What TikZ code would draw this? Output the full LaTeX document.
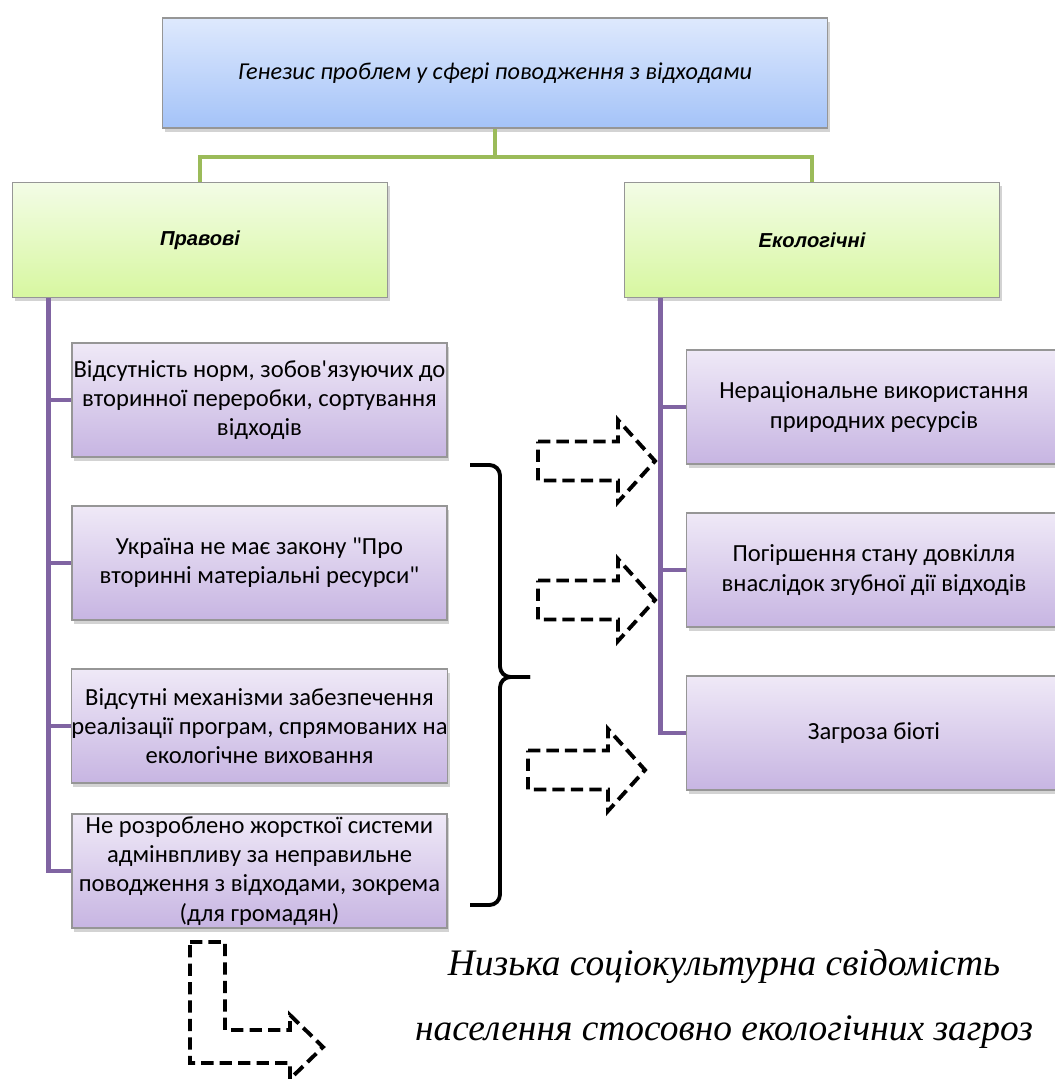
\documentclass[tikz,border=0pt]{standalone}
\usepackage{fontspec}
\setmainfont{Carlito}[Ligatures=TeXOff]
\newfontfamily\headfont{Liberation Sans}
\newfontfamily\notefont{Liberation Serif}
\usetikzlibrary{shadows}
\definecolor{genesistop}{RGB}{222,233,253}
\definecolor{genesisbottom}{RGB}{164,195,248}
\definecolor{branchtop}{RGB}{243,252,230}
\definecolor{branchbottom}{RGB}{215,247,160}
\definecolor{causetop}{RGB}{239,233,247}
\definecolor{causebottom}{RGB}{199,181,226}
\definecolor{boxborder}{RGB}{150,150,150}
\definecolor{greenline}{RGB}{155,187,89}
\definecolor{purpleline}{RGB}{128,100,162}

\tikzset{
    basebox/.style={draw=boxborder, line width=0.8pt, inner sep=0pt, align=center,
        drop shadow={opacity=0.35, shadow xshift=1.2pt, shadow yshift=-2pt}},
    genbox/.style={basebox, top color=genesistop, bottom color=genesisbottom,
        minimum width=13.3cm, minimum height=2.2cm,
        font=\fontsize{13.8}{17}\selectfont\itshape},
    branchbox/.style={basebox, top color=branchtop, bottom color=branchbottom,
        minimum width=7.5cm, minimum height=2.3cm,
        font=\headfont\fontsize{11.5}{14}\selectfont\bfseries\itshape},
    causebox/.style={basebox, top color=causetop, bottom color=causebottom,
        minimum width=7.5cm, minimum height=2.28cm,
        font=\fontsize{14}{16.6}\selectfont},
    treeline/.style={line width=2.8pt, color=greenline},
    listline/.style={line width=2.8pt, color=purpleline},
    hollowarrow/.style={line width=2.2pt, dash pattern=on 7pt off 3.5pt, line join=miter},
    bracket/.style={line width=2.2pt, rounded corners=6pt}
}

\begin{document}
\begin{tikzpicture}[x=0.02cm, y=-0.02cm]
    \useasboundingbox (0,0) rectangle (1054,1081);

    \node[genbox] (gen) at (495,73) {Генезис проблем у сфері поводження з відходами};
    \node[branchbox] (prav) at (200,240) {Правові};
    \node[branchbox] (ekol) at (812,240) {Екологічні};

    \coordinate (split) at (495,157);
    \draw[treeline] (gen.south) -- (split) -| (prav.north);
    \draw[treeline] (split) -| (ekol.north);

    \node[causebox] (p1) at (259.5,400) {Відсутність норм, зобов'язуючих до\\вторинної переробки, сортування\\відходів};
    \node[causebox] (p2) at (259.5,563) {Україна не має закону "Про\\вторинні матеріальні ресурси"};
    \node[causebox] (p3) at (259.5,726) {Відсутні механізми забезпечення\\реалізації програм, спрямованих на\\екологічне виховання};
    \node[causebox] (p4) at (259.5,871) {Не розроблено жорсткої системи\\адмінвпливу за неправильне\\поводження з відходами, зокрема\\(для громадян)};

    \node[causebox] (e1) at (874,407) {Нераціональне використання\\природних ресурсів};
    \node[causebox] (e2) at (874,570) {Погіршення стану довкілля\\внаслідок згубної дії відходів};
    \node[causebox] (e3) at (874,733) {Загроза біоті};

    \coordinate (ltrunk) at ([xshift=0.74cm]prav.south west);
    \coordinate (rtrunk) at ([xshift=0.74cm]ekol.south west);
    \draw[listline] (ltrunk) |- (p4.west);
    \draw[listline] (rtrunk) |- (e3.west);
    \foreach \i in {1,2,3}
        \draw[listline] (ltrunk |- p\i.west) -- (p\i.west);
    \foreach \i in {1,2}
        \draw[listline] (rtrunk |- e\i.west) -- (e\i.west);

    \draw[bracket] (470,465) -- (500,465) -- (500,677) -- (530,677);
    \draw[bracket] (530,677) -- (500,677) -- (500,905) -- (470,905);

    \foreach \ax/\ay in {538/461, 538/600, 528/770}
        \draw[hollowarrow] ({\ax},{\ay-19.5}) -- ++(80,0) -- ++(0,-21.5)
            -- ({\ax+117},{\ay}) -- ({\ax+80},{\ay+41}) -- ++(0,-21.5)
            -- ({\ax},{\ay+19.5}) -- cycle;

    \draw[hollowarrow] (190,942) -- (225,942) -- (225,1030) -- (290,1030) -- (290,1015)
        -- (323,1047) -- (290,1079) -- (290,1063) -- (190,1063) -- cycle;

    \node[font=\notefont\fontsize{21.3}{37}\selectfont\itshape, align=center] (note) at (724,999)
        {Низька соціокультурна свідомість\\населення стосовно екологічних загроз};
\end{tikzpicture}
\end{document}
